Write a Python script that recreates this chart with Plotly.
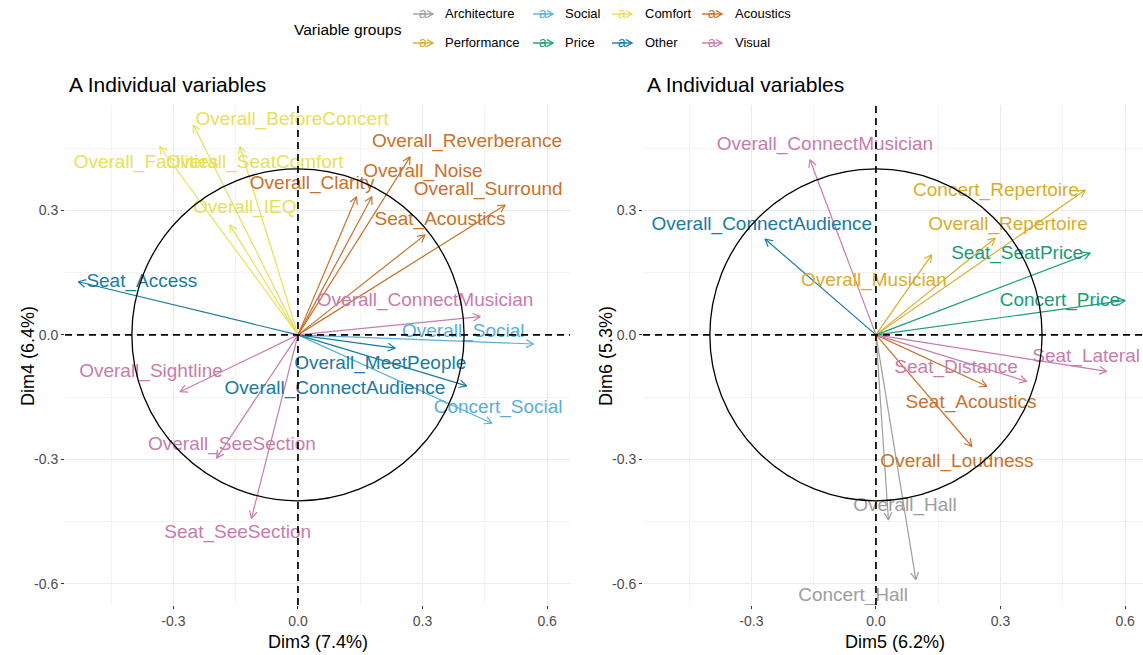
import math
import plotly.graph_objects as go

W, H = 1143, 655
FONT = "Liberation Sans, Arial, sans-serif"

# Variable groups and their colours (legend order, column-major in a 2 x 4 grid)
groups = ["Architecture", "Performance", "Social", "Price",
          "Comfort", "Other", "Acoustics", "Visual"]
group_colors = ["#9e9e9e", "#d9ad2c", "#5aaed6", "#1a9c78",
                "#e8e05a", "#1b7aa0", "#c8722a", "#c77dab"]
color_of = dict(zip(groups, group_colors))

# ---- Panel 1: Dim3 vs Dim4 ----
vars_34 = ["Overall_BeforeConcert", "Overall_Facilities", "Overall_SeatComfort", "Overall_IEQ",
           "Overall_Clarity", "Overall_Noise", "Overall_Reverberance", "Overall_Surround",
           "Seat_Acoustics", "Seat_Access", "Overall_MeetPeople", "Overall_ConnectAudience",
           "Overall_Social", "Concert_Social", "Overall_ConnectMusician", "Overall_Sightline",
           "Overall_SeeSection", "Seat_SeeSection"]
groups_34 = ["Comfort", "Comfort", "Comfort", "Comfort",
             "Acoustics", "Acoustics", "Acoustics", "Acoustics",
             "Acoustics", "Other", "Other", "Other",
             "Social", "Social", "Visual", "Visual",
             "Visual", "Visual"]
dim3 = [-0.252, -0.333, -0.140, -0.164,
        0.141, 0.178, 0.270, 0.499,
        0.306, -0.529, 0.234, 0.406,
        0.567, 0.467, 0.439, -0.284,
        -0.196, -0.112]
dim4 = [0.506, 0.454, 0.454, 0.265,
        0.333, 0.333, 0.429, 0.313,
        0.241, 0.128, -0.032, -0.123,
        -0.022, -0.213, 0.044, -0.137,
        -0.297, -0.442]
# repelled label anchors (data units)
lab_x_34 = [-0.014, -0.366, -0.104, -0.128,
            0.034, 0.301, 0.407, 0.458,
            0.342, -0.376, 0.198, 0.089,
            0.398, 0.482, 0.306, -0.354,
            -0.159, -0.145]
lab_y_34 = [0.518, 0.414, 0.414, 0.304,
            0.364, 0.392, 0.464, 0.349,
            0.277, 0.128, -0.070, -0.130,
            0.007, -0.178, 0.080, -0.089,
            -0.265, -0.477]

# ---- Panel 2: Dim5 vs Dim6 ----
vars_56 = ["Overall_ConnectMusician", "Overall_ConnectAudience", "Concert_Repertoire",
           "Overall_Repertoire", "Overall_Musician", "Seat_SeatPrice", "Concert_Price",
           "Seat_Lateral", "Seat_Distance", "Seat_Acoustics", "Overall_Loudness",
           "Overall_Hall", "Concert_Hall"]
groups_56 = ["Visual", "Other", "Performance",
             "Performance", "Performance", "Price", "Price",
             "Visual", "Visual", "Acoustics", "Acoustics",
             "Architecture", "Architecture"]
dim5 = [-0.159, -0.267, 0.504,
        0.287, 0.134, 0.516, 0.600,
        0.556, 0.363, 0.267, 0.231,
        0.030, 0.096]
dim6 = [0.422, 0.231, 0.349,
        0.233, 0.193, 0.197, 0.083,
        -0.088, -0.112, -0.124, -0.269,
        -0.446, -0.590]
lab_x_56 = [-0.123, -0.275, 0.289,
            0.318, -0.005, 0.340, 0.443,
            0.506, 0.193, 0.229, 0.195,
            0.070, -0.055]
lab_y_56 = [0.458, 0.265, 0.345,
            0.265, 0.130, 0.195, 0.082,
            -0.055, -0.080, -0.164, -0.308,
            -0.414, -0.629]

CIRCLE_R = 0.4
HEAD_LEN = 0.02
HEAD_ANG = math.radians(28)


def arrow_traces(xs, ys, gs, xaxis, yaxis):
    traces = []
    for g in groups:
        px, py = [], []
        for x, y, gg in zip(xs, ys, gs):
            if gg != g:
                continue
            th = math.atan2(y, x)
            px += [0, x, None]
            py += [0, y, None]
            for s in (1, -1):
                a = th + s * HEAD_ANG
                px += [x - HEAD_LEN * math.cos(a), x]
                py += [y - HEAD_LEN * math.sin(a), y]
            px.append(None)
            py.append(None)
        if px:
            traces.append(go.Scatter(x=px, y=py, mode="lines", xaxis=xaxis, yaxis=yaxis,
                                     line=dict(color=color_of[g], width=1.2),
                                     showlegend=False, hoverinfo="skip"))
    return traces


def label_trace(lx, ly, names, gs, xaxis, yaxis):
    return go.Scatter(x=lx, y=ly, mode="text", text=names, xaxis=xaxis, yaxis=yaxis,
                      textposition="middle center",
                      textfont=dict(family=FONT, size=19, color=[color_of[g] for g in gs]),
                      showlegend=False, hoverinfo="skip")


fig = go.Figure()
for t in arrow_traces(dim3, dim4, groups_34, "x", "y"):
    fig.add_trace(t)
fig.add_trace(label_trace(lab_x_34, lab_y_34, vars_34, groups_34, "x", "y"))
for t in arrow_traces(dim5, dim6, groups_56, "x2", "y2"):
    fig.add_trace(t)
fig.add_trace(label_trace(lab_x_56, lab_y_56, vars_56, groups_56, "x2", "y2"))


def px2x(p):
    return p / W


def px2y(p):
    return 1 - p / H


axis_common = dict(
    showgrid=True, gridcolor="#ebebeb", gridwidth=1,
    minor=dict(showgrid=True, gridcolor="#f3f3f3", gridwidth=0.7, dtick=0.15, tick0=0),
    zeroline=False, showline=False,
    ticks="outside", ticklen=3, tickwidth=1, tickcolor="#333333",
    tickfont=dict(family=FONT, size=14, color="#4d4d4d"),
    tickmode="array", tickvals=[-0.6, -0.3, 0.0, 0.3, 0.6],
    ticktext=["-0.6", "-0.3", "0.0", "0.3", "0.6"],
)

y_dom = [px2y(605), px2y(105)]
fig.update_layout(
    width=W, height=H,
    margin=dict(l=0, r=0, t=0, b=0),
    paper_bgcolor="white", plot_bgcolor="white",
    font=dict(family=FONT, color="black"),
    xaxis=dict(axis_common, domain=[px2x(65), px2x(570)], range=[-0.561, 0.655], anchor="y"),
    yaxis=dict(axis_common, domain=y_dom, range=[-0.651, 0.554], anchor="x"),
    xaxis2=dict(axis_common, domain=[px2x(643), px2x(1143)], range=[-0.561, 0.643], anchor="y2"),
    yaxis2=dict(axis_common, domain=y_dom, range=[-0.651, 0.554], anchor="x2"),
)

shapes = []
for xr, yr in (("x", "y"), ("x2", "y2")):
    shapes.append(dict(type="circle", xref=xr, yref=yr, x0=-CIRCLE_R, x1=CIRCLE_R,
                       y0=-CIRCLE_R, y1=CIRCLE_R, line=dict(color="black", width=1.3)))
    shapes.append(dict(type="line", xref=xr, yref=yr + " domain", x0=0, x1=0, y0=0, y1=1,
                       line=dict(color="black", width=1.7, dash="7px,5px")))
    shapes.append(dict(type="line", xref=xr + " domain", yref=yr, x0=0, x1=1, y0=0, y1=0,
                       line=dict(color="black", width=1.7, dash="7px,5px")))

annotations = []
# panel titles
for xp in (67, 645):
    annotations.append(dict(text="A Individual variables", xref="paper", yref="paper",
                            x=px2x(xp), y=px2y(84), xanchor="left", yanchor="middle",
                            showarrow=False, font=dict(family=FONT, size=21, color="black")))
# axis titles
for txt, xp, yp, ang in (("Dim3 (7.4%)", 318, 642, 0), ("Dim5 (6.2%)", 895, 642, 0),
                         ("Dim4 (6.4%)", 28, 356, -90), ("Dim6 (5.3%)", 606, 356, -90)):
    annotations.append(dict(text=txt, xref="paper", yref="paper", x=px2x(xp), y=px2y(yp),
                            xanchor="center", yanchor="middle", textangle=ang,
                            showarrow=False, font=dict(family=FONT, size=18, color="black")))

# legend
annotations.append(dict(text="Variable groups", xref="paper", yref="paper",
                        x=px2x(292), y=px2y(29), xanchor="left", yanchor="middle",
                        showarrow=False, font=dict(family=FONT, size=15.5, color="black")))
key_x0 = [413, 533, 612, 702]
text_x0 = [443, 563, 643, 733]
row_y = [14, 43]
for i, g in enumerate(groups):
    col, row = i // 2, i % 2
    c = color_of[g]
    x0, x1, yk = key_x0[col], key_x0[col] + 20, row_y[row]
    shapes.append(dict(type="line", xref="paper", yref="paper",
                       x0=px2x(x0), x1=px2x(x1), y0=px2y(yk), y1=px2y(yk),
                       line=dict(color=c, width=1.4)))
    shapes.append(dict(type="path", xref="paper", yref="paper",
                       path=(f"M {px2x(x1 - 6)},{px2y(yk - 3.5)} L {px2x(x1)},{px2y(yk)} "
                             f"L {px2x(x1 - 6)},{px2y(yk + 3.5)}"),
                       line=dict(color=c, width=1.4)))
    annotations.append(dict(text="a", xref="paper", yref="paper", x=px2x(x0 + 10), y=px2y(yk - 1),
                            xanchor="center", yanchor="middle", showarrow=False,
                            font=dict(family=FONT, size=14, color=c)))
    annotations.append(dict(text=g, xref="paper", yref="paper", x=px2x(text_x0[col]), y=px2y(yk),
                            xanchor="left", yanchor="middle", showarrow=False,
                            font=dict(family=FONT, size=13, color="black")))

fig.update_layout(shapes=shapes, annotations=annotations)
fig.write_html("out.html")
